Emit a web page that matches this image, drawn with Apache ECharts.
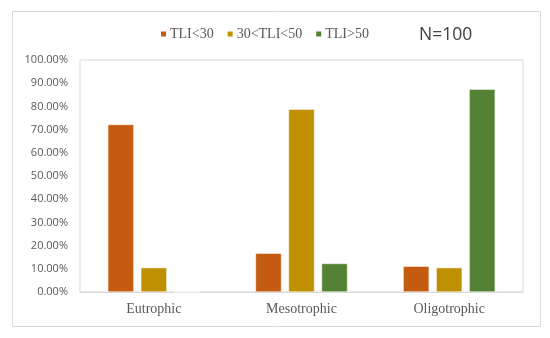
<!DOCTYPE html>
<html><head><meta charset="utf-8">
<script src="https://cdn.jsdelivr.net/npm/echarts@6/dist/echarts.min.js"></script>
<style>html,body{margin:0;padding:0;background:#fff}#c{width:550px;height:338px}</style>
</head><body><div id="c"></div>
<script>
const categories = ['Eutrophic', 'Mesotrophic', 'Oligotrophic'];
const seriesNames = ['TLI<30', '30<TLI<50', 'TLI>50'];
const tli30 = [72.2, 16.7, 11.1];
const tli30to50 = [10.5, 78.8, 10.5];
const tli50 = [0, 12.3, 87.4];
const yTicks = [0, 10, 20, 30, 40, 50, 60, 70, 80, 90, 100];
const colors = ['#C55A11', '#BF9000', '#548235'];

const chart = echarts.init(document.getElementById('c'));
const values = [tli30, tli30to50, tli50];
chart.setOption({
  animation: false,
  graphic: [
    {type: 'rect', shape: {x: 12.5, y: 11.5, width: 528, height: 315}, style: {fill: 'none', stroke: '#d9d9d9', lineWidth: 1}, z: 0},
    {type: 'text', left: 419, top: 26, style: {text: 'N=100', font: '17.5px "Open Sans", sans-serif', fill: '#404040'}}
  ],
  legend: {
    top: 22, left: 154,
    itemWidth: 7, itemHeight: 7, itemGap: 12,
    icon: 'rect',
    textStyle: {fontFamily: '"Liberation Serif", serif', fontSize: 14, color: '#595959', padding: [0, 0, 0, -2]},
    data: seriesNames
  },
  grid: {left: 80, right: 27, top: 60, bottom: 46, show: true, borderColor: '#d9d9d9', borderWidth: 1},
  xAxis: {
    type: 'category', data: categories,
    axisTick: {show: false},
    axisLine: {lineStyle: {color: '#d9d9d9'}},
    axisLabel: {fontFamily: '"Liberation Serif", serif', fontSize: 14, color: '#595959', margin: 10}
  },
  yAxis: {
    type: 'value', min: yTicks[0], max: yTicks[yTicks.length - 1], interval: 10,
    splitLine: {show: false},
    axisLine: {show: false}, axisTick: {show: false},
    axisLabel: {fontFamily: '"Open Sans", sans-serif', fontSize: 11, color: '#595959', margin: 12,
      formatter: v => v.toFixed(2) + '%'}
  },
  series: seriesNames.map((n, i) => ({
    name: n, type: 'bar', data: values[i],
    itemStyle: {color: colors[i], borderColor: '#fff', borderWidth: 0.5},
    barWidth: 26, barGap: '27%', barCategoryGap: '37%'
  }))
});
</script></body></html>
